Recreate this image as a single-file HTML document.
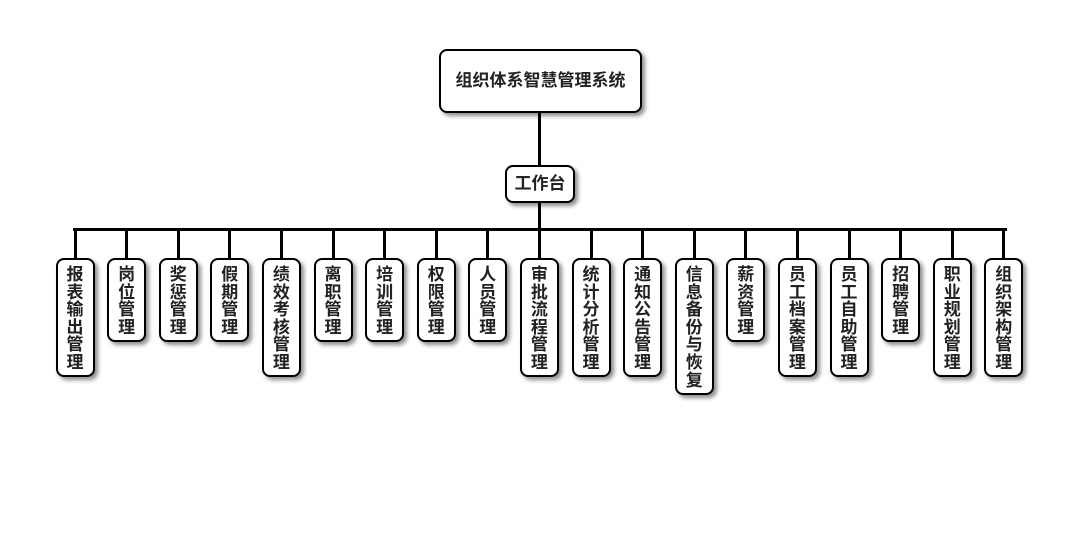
<!DOCTYPE html>
<html><head><meta charset="utf-8"><style>
body{margin:0;width:1080px;height:560px;background:#fff;position:relative;overflow:hidden;font-family:"Liberation Sans","Noto Sans CJK SC",sans-serif;}
.b{position:absolute;box-sizing:border-box;border:2px solid #000;border-radius:8px;background:#fff;box-shadow:3px 3px 4px rgba(0,0,0,.45);font-weight:bold;color:#222;text-align:center;}
.v{width:39px;top:258px;font-size:17px;line-height:17.6px;padding-top:6px;word-break:break-all;padding-left:9px;padding-right:9px;}
.l{position:absolute;background:#000;}
</style></head><body>
<div class="l" style="left:538px;top:112px;width:3px;height:54px"></div>
<div class="l" style="left:538px;top:201px;width:3px;height:29px"></div>
<div class="l" style="left:73px;top:228px;width:934px;height:3px"></div>
<div class="b" style="left:439px;top:49px;width:203px;height:64px;font-size:17px;line-height:60px;">组织体系智慧管理系统</div>
<div class="b" style="left:505px;top:165px;width:70px;height:38px;font-size:17px;line-height:34px;">工作台</div>
<div id="c"></div>
<script>
var t=["报表输出管理","岗位管理","奖惩管理","假期管理","绩效考核管理","离职管理","培训管理","权限管理","人员管理","审批流程管理","统计分析管理","通知公告管理","信息备份与恢复","薪资管理","员工档案管理","员工自助管理","招聘管理","职业规划管理","组织架构管理"];
var h="";
for(var i=0;i<t.length;i++){var cx=75+i*51.6;
h+='<div class="l" style="left:'+(cx-1.5)+'px;top:229px;width:3px;height:30px"></div>';
h+='<div class="b v" style="left:'+(cx-19.5)+'px;height:'+(t[i].length*17.5+14)+'px">'+t[i]+'</div>';}
document.getElementById("c").innerHTML=h;
</script>
</body></html>
